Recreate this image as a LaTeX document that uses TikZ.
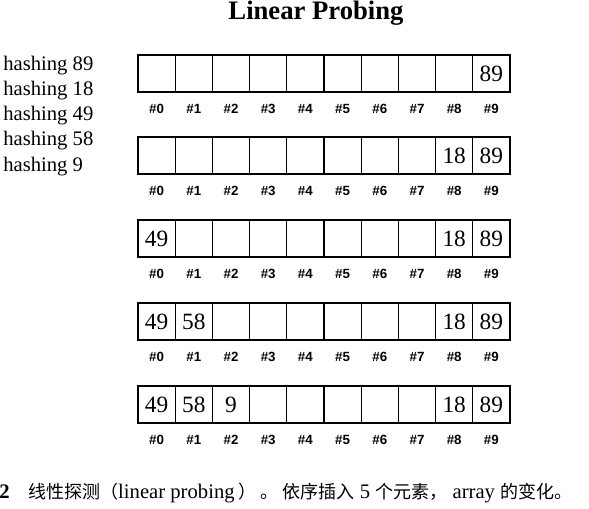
\documentclass[tikz,border=0pt]{standalone}
\usepackage{fontspec}
\setmainfont{Liberation Serif}
\newfontfamily\cjk{Noto Sans CJK SC}
\newfontfamily\idxfont{Liberation Sans}
\usetikzlibrary{positioning}

\begin{document}
\begin{tikzpicture}[x=0.75pt, y=-0.75pt,
  cell/.style={draw, line width=0.9pt, minimum width=27.9pt, minimum height=27.75pt,
    inner sep=0pt, outer sep=0pt, anchor=north west},
  val/.style={font=\fontsize{17.5}{18}\selectfont, inner sep=0pt},
  idx/.style={font=\idxfont\bfseries\fontsize{10}{11}\selectfont, inner sep=0pt},
  hlabel/.style={font=\fontsize{15.5}{17}\selectfont, anchor=west, inner sep=0pt}]

% drawing dimensions (pixels)
\newcommand{\cellw}{37.2}
\newcommand{\xorigin}{138}

% ad hoc bounding box
\useasboundingbox (0,0) rectangle (589,509);

% title
\node[font=\bfseries\fontsize{20}{22}\selectfont, inner sep=0pt] (title) at (316,13) {Linear Probing};

% order of insertion
\node[hlabel] (h89) at (3,66) {hashing 89};
\node[hlabel] (h18) at (3,91) {hashing 18};
\node[hlabel] (h49) at (3,116) {hashing 49};
\node[hlabel] (h58) at (3,141) {hashing 58};
\node[hlabel] (h9) at (3,167) {hashing 9};

% five arrays of ten cells
\foreach \r/\top in {1/55, 2/137, 3/220, 4/303, 5/386} {
  \foreach \c in {0,...,9} {
    \node[cell] (a\r-\c) at ({\xorigin + \c * \cellw}, \top) {};
    \node[idx, below=9pt of a\r-\c] (i\r-\c) {\#\c};
  }
}

% contents
\node[val] (v1-9) at (a1-9) {89};

\node[val] (v2-8) at (a2-8) {18};
\node[val] (v2-9) at (a2-9) {89};

\node[val] (v3-0) at (a3-0) {49};
\node[val] (v3-8) at (a3-8) {18};
\node[val] (v3-9) at (a3-9) {89};

\node[val] (v4-0) at (a4-0) {49};
\node[val] (v4-1) at (a4-1) {58};
\node[val] (v4-8) at (a4-8) {18};
\node[val] (v4-9) at (a4-9) {89};

\node[val] (v5-0) at (a5-0) {49};
\node[val] (v5-1) at (a5-1) {58};
\node[val] (v5-2) at (a5-2) {9};
\node[val] (v5-8) at (a5-8) {18};
\node[val] (v5-9) at (a5-9) {89};

% caption
\node[anchor=west, inner sep=0pt, font=\fontsize{15.5}{17}\selectfont] (caption) at (-1,493)
  {\textbf{2}\hspace{0.9em}{\cjk\fontsize{13.5}{15}\selectfont 线性探测（}linear probing{\cjk\fontsize{13.5}{15}\selectfont\ ）\ 。\ 依序插入}\ 5\ {\cjk\fontsize{13.5}{15}\selectfont 个元素，}\ array\ {\cjk\fontsize{13.5}{15}\selectfont 的变化。}};

\end{tikzpicture}
\end{document}
